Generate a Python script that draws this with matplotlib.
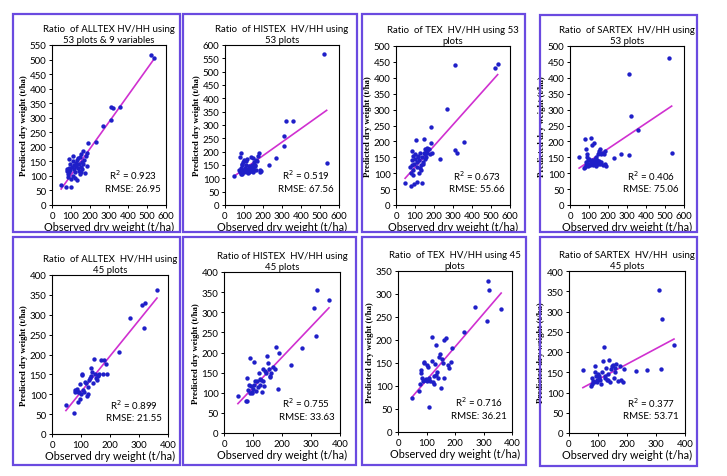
import matplotlib
matplotlib.use("Agg")
from matplotlib import pyplot as plt
from matplotlib.patches import Rectangle

# observed dry weight (t/ha), shared within each row
obs_53 = [48, 75, 78, 80, 82, 84, 86, 88, 90, 92, 95, 97, 100, 102, 105, 108, 110, 112, 115, 118,
          120, 122, 125, 128, 130, 132, 135, 138, 140, 143, 145, 148, 150, 153, 155, 158, 160, 163, 165, 170,
          175, 180, 183, 186, 190, 230, 270, 308, 312, 320, 360, 520, 535]
obs_45 = [48, 75, 78, 80, 82, 85, 88, 90, 92, 95, 98, 100, 103, 105, 108, 110, 113, 118, 120, 123,
          125, 128, 130, 133, 135, 138, 140, 145, 148, 150, 155, 158, 160, 163, 168, 175, 180, 185, 190,
          230, 270, 312, 316, 320, 362]

# predicted dry weight (t/ha)
pred_alltex_53 = [68, 62, 118, 125, 105, 122, 95, 128, 159, 112, 142, 120, 62, 88, 130, 170, 100, 150, 125, 138,
                  92, 115, 145, 135, 85, 155, 128, 160, 118, 140, 105, 165, 132, 115, 175, 148, 125, 185, 140, 155,
                  110, 170, 178, 135, 212, 216, 270, 338, 292, 334, 337, 517, 504]
pred_histex_53 = [108, 130, 181, 125, 115, 195, 140, 150, 118, 155, 130, 160, 122, 168, 140, 128, 150, 165, 125, 172,
                  135, 120, 145, 125, 132, 140, 128, 180, 135, 150, 122, 175, 138, 130, 160, 145, 150, 170, 132, 165,
                  185, 195, 130, 125, 128, 151, 175, 259, 222, 314, 315, 567, 156]
pred_tex_53 = [70, 120, 59, 100, 170, 125, 140, 110, 155, 95, 130, 66, 160, 145, 205, 135, 120, 73, 150, 155,
               140, 100, 115, 165, 110, 125, 68, 150, 135, 130, 165, 208, 145, 175, 160, 170, 150, 165, 180, 175,
               175, 160, 245, 195, 165, 146, 302, 441, 172, 164, 198, 431, 444]
pred_sartex_53 = [152, 115, 120, 208, 125, 135, 177, 128, 150, 160, 122, 140, 130, 145, 125, 135, 128, 210, 189, 140,
                  130, 125, 195, 135, 145, 128, 122, 150, 135, 140, 130, 160, 165, 138, 170, 130, 175, 160, 135, 165,
                  125, 160, 170, 128, 122, 149, 161, 412, 158, 280, 235, 461, 164]
pred_alltex_45 = [73, 52, 105, 110, 108, 112, 106, 80, 105, 88, 125, 100, 148, 152, 110, 105, 130, 128, 95, 100,
                  118, 135, 140, 165, 145, 155, 128, 188, 150, 140, 135, 148, 145, 152, 185, 150, 185, 175, 152,
                  206, 292, 325, 267, 330, 362]
pred_histex_45 = [91, 80, 80, 137, 108, 120, 187, 100, 118, 103, 100, 110, 120, 176, 130, 105, 128, 115, 148, 120,
                  135, 132, 103, 160, 130, 118, 155, 150, 192, 175, 160, 142, 140, 150, 165, 158, 213, 110, 200,
                  170, 211, 311, 242, 356, 330]
pred_tex_45 = [75, 90, 105, 135, 128, 118, 110, 152, 150, 112, 115, 110, 145, 142, 118, 54, 110, 155, 206, 108,
               105, 122, 148, 125, 190, 130, 118, 162, 170, 96, 158, 150, 200, 118, 205, 145, 140, 152, 182,
               217, 271, 242, 328, 309, 268]
pred_sartex_45 = [155, 115, 120, 135, 128, 125, 165, 150, 140, 130, 125, 145, 135, 140, 132, 120, 150, 177, 213, 135,
                  140, 160, 130, 132, 145, 180, 125, 158, 165, 168, 135, 160, 150, 170, 128, 165, 130, 125, 158,
                  152, 155, 353, 159, 281, 218]

# regression line end points
fit_x_53 = [48, 535]
fit_x_45 = [48, 362]
fit_alltex_53 = [55, 500]
fit_histex_53 = [108, 355]
fit_tex_53 = [84, 410]
fit_sartex_53 = [116, 311]
fit_alltex_45 = [59, 342]
fit_histex_45 = [73, 311]
fit_tex_45 = [75, 302]
fit_sartex_45 = [112, 232]

titles = [
    "Ratio  of ALLTEX HV/HH using\n53 plots & 9 variables",
    "Ratio  of HISTEX  HV/HH using\n53 plots",
    "Ratio  of TEX  HV/HH using 53\nplots",
    "Ratio  of SARTEX  HV/HH using\n53 plots",
    "Ratio  of ALLTEX  HV/HH using\n45 plots",
    "Ratio of HISTEX  HV/HH using\n45 plots",
    "Ratio  of TEX  HV/HH using 45\nplots",
    "Ratio of SARTEX  HV/HH  using\n45 plots",
]
r2_values = ["0.923", "0.519", "0.673", "0.406", "0.899", "0.755", "0.716", "0.377"]
rmse_values = ["26.95", "67.56", "55.66", "75.06", "21.55", "33.63", "36.21", "53.71"]
y_max = [550, 600, 500, 500, 400, 400, 350, 400]
x_max = [600, 600, 600, 600, 400, 400, 400, 400]

panels = [
    (obs_53, pred_alltex_53, fit_x_53, fit_alltex_53),
    (obs_53, pred_histex_53, fit_x_53, fit_histex_53),
    (obs_53, pred_tex_53, fit_x_53, fit_tex_53),
    (obs_53, pred_sartex_53, fit_x_53, fit_sartex_53),
    (obs_45, pred_alltex_45, fit_x_45, fit_alltex_45),
    (obs_45, pred_histex_45, fit_x_45, fit_histex_45),
    (obs_45, pred_tex_45, fit_x_45, fit_tex_45),
    (obs_45, pred_sartex_45, fit_x_45, fit_sartex_45),
]

W, H = 727, 477
# pixel layout: (left, top, right, bottom)
axes_px = [(52, 46, 166, 206), (225, 46, 339, 206), (396, 47, 510, 206), (570, 47, 684, 206),
           (52, 276, 168, 435), (224, 273, 340, 434), (398, 272, 512, 433), (569, 272, 685, 434)]
boxes_px = [(13, 15, 180, 233), (183, 15, 357, 233), (362, 15, 525, 233), (540, 16, 697, 233),
            (13, 238, 180, 466), (183, 238, 356, 466), (362, 238, 526, 466), (540, 238, 697, 467)]

SANS = ["Lato", "DejaVu Sans"]
DOT = "#1f1fc8"
LINE = "#d030d0"
FRAME = "#6a4ae0"

fig = plt.figure(figsize=(W / 100, H / 100), dpi=100)
fig.patch.set_facecolor("white")

for (l, t, r, b) in boxes_px:
    fig.patches.append(Rectangle((l / W, 1 - b / H), (r - l) / W, (b - t) / H,
                                 transform=fig.transFigure, fill=False,
                                 edgecolor=FRAME, linewidth=1.6))

for i, (x, y, fx, fy) in enumerate(panels):
    l, t, r, b = axes_px[i]
    ax = fig.add_axes([l / W, 1 - b / H, (r - l) / W, (b - t) / H])
    ax.scatter(x, y, s=10, color=DOT, zorder=3, linewidths=0)
    ax.plot(fx, fy, color=LINE, linewidth=1.2, zorder=2)
    ax.set_xlim(0, x_max[i])
    ax.set_ylim(0, y_max[i])
    ax.set_xticks(range(0, x_max[i] + 1, 100))
    ax.set_yticks(range(0, y_max[i] + 1, 50))
    ax.tick_params(labelsize=7, length=2.5, width=0.7, pad=1.5)
    for lab in ax.get_xticklabels() + ax.get_yticklabels():
        lab.set_family(SANS)
    for sp in ax.spines.values():
        sp.set_linewidth(0.8)
    ax.set_title(titles[i], fontsize=6.9, family=SANS, pad=2, linespacing=1.35)
    ax.set_xlabel("Observed dry weight (t/ha)", fontsize=7.8, family=SANS, labelpad=1)
    ax.set_ylabel("Predicted dry weight (t/ha)", fontsize=6.3, family="Liberation Serif",
                  fontweight="bold", labelpad=1)
    ax.text(0.71, 0.19, "R$^2$ = " + r2_values[i], transform=ax.transAxes,
            fontsize=7, family=SANS, ha="center", va="center")
    ax.text(0.71, 0.105, "RMSE: " + rmse_values[i], transform=ax.transAxes,
            fontsize=7, family=SANS, ha="center", va="center")

fig.savefig("out.png", dpi=100)
